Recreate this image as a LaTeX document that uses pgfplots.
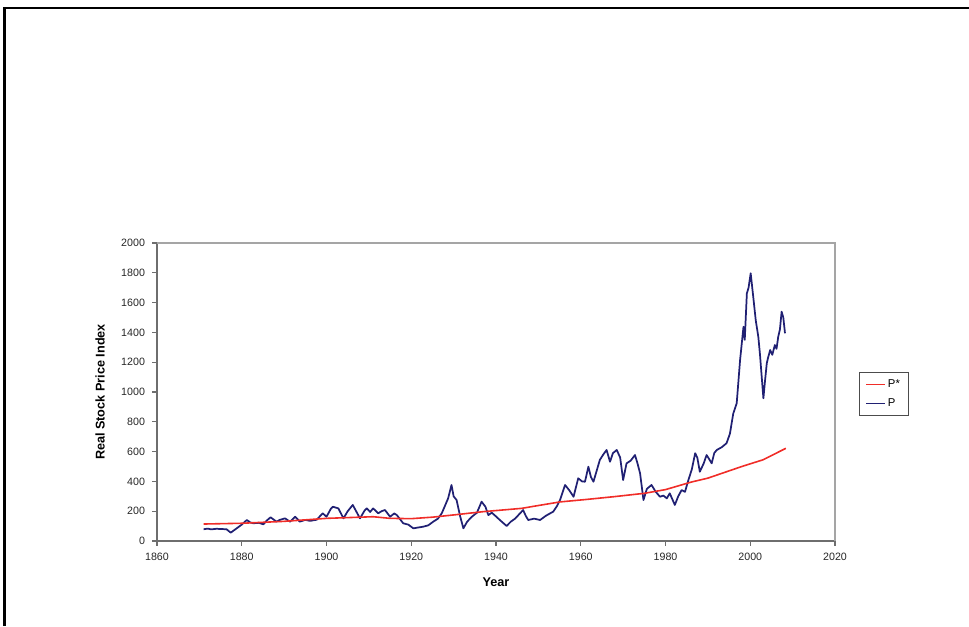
\documentclass[border=0pt]{standalone}
\usepackage{pgfplots}
\pgfplotsset{compat=1.18}
\usepackage{fontspec}
\setmainfont{Liberation Sans}
\definecolor{pnavy}{RGB}{32,32,115}
\definecolor{pred}{RGB}{240,45,40}
\definecolor{axgray}{RGB}{110,110,110}
\definecolor{boxgray}{RGB}{165,165,165}

\pgfplotstableread{
year value
1871.0 79
1872.0 83
1872.8 78
1874.0 82
1875.5 80
1876.4 79
1877.4 56
1878.8 85
1880.0 110
1881.2 141
1882.0 125
1882.7 119
1884.0 122
1885.1 112
1886.0 140
1886.8 159
1888.2 130
1889.0 142
1890.2 152
1891.4 130
1892.6 163
1893.7 130
1895.0 142
1896.1 135
1897.7 143
1899.1 186
1900.0 163
1901.0 215
1901.5 230
1902.8 219
1904.0 152
1905.0 200
1906.2 242
1907.9 152
1909.0 205
1909.5 219
1910.3 195
1911.0 219
1912.2 186
1913.0 200
1913.8 208
1915.0 163
1916.0 185
1916.6 174
1918.1 119
1919.3 110
1920.5 85
1921.5 90
1922.8 96
1924.0 105
1925.2 130
1926.3 150
1927.2 186
1928.7 286
1929.5 376
1930.0 300
1930.7 275
1931.5 170
1932.3 85
1933.2 130
1934.3 163
1935.5 190
1936.6 264
1937.5 230
1938.2 174
1939.0 190
1940.0 165
1940.9 141
1942.5 101
1943.5 130
1944.5 150
1946.4 208
1947.0 170
1947.6 141
1949.0 150
1950.4 141
1951.8 170
1953.5 197
1954.4 235
1955.1 275
1956.3 376
1957.3 340
1958.3 297
1959.4 421
1960.3 400
1961.0 398
1961.8 499
1962.4 430
1963.0 398
1964.5 544
1965.3 580
1966.1 611
1966.9 532
1967.6 590
1968.5 611
1969.3 560
1970.0 409
1970.8 521
1971.8 540
1972.8 577
1973.4 520
1974.0 454
1974.8 275
1975.6 350
1976.7 376
1977.7 330
1978.7 297
1979.5 305
1980.3 286
1981.0 320
1982.2 242
1983.0 300
1983.8 342
1984.6 330
1985.4 409
1986.2 480
1987.0 589
1987.5 560
1988.1 465
1989.0 520
1989.7 577
1990.4 545
1990.9 521
1991.5 590
1992.1 611
1993.3 630
1994.4 656
1995.2 720
1996.0 857
1996.8 924
1997.6 1215
1998.4 1438
1998.7 1350
1999.2 1662
1999.6 1700
2000.1 1797
2000.7 1640
2001.3 1480
2001.9 1371
2002.3 1250
2002.7 1103
2003.1 958
2003.5 1080
2003.9 1193
2004.2 1230
2004.7 1282
2005.2 1250
2005.8 1315
2006.2 1290
2006.6 1371
2007.0 1420
2007.4 1539
2007.8 1500
2008.2 1394
}\pricetable

% P* (present value of dividends)
\pgfplotstableread{
year value
1871 114
1880 119
1890 132
1900 152
1911 163
1915 152
1920 150
1925 160
1930 175
1937 197
1946 219
1955 262
1961 278
1968 298
1975 320
1980 345
1986 395
1990 422
1998 500
2003 545
2008.4 622
}\pstartable

\begin{document}
\begin{tikzpicture}
\useasboundingbox (0,0) rectangle (726.75pt,469.5pt);
\draw[line width=2.2pt] (3.4pt,0) -- (3.4pt,463.5pt) -- (726.75pt,463.5pt);
\begin{axis}[
  scale only axis, width=508.5pt, height=223.5pt,
  at={(117.75pt,63.75pt)}, anchor=south west,
  xmin=1860, xmax=2020, ymin=0, ymax=2000,
  xtick={1860,1880,...,2020}, ytick={0,200,...,2000},
  axis lines*=left, axis line style={-, axgray, line width=1pt},
  tick align=outside, major tick length=3.5pt,
  tick style={axgray, line width=0.8pt},
  /pgf/number format/1000 sep={},
  /pgf/number format/assume math mode=true,
  tick label style={font=\fontsize{8}{9}\selectfont, black!85},
  xticklabel style={yshift=-2pt},
  yticklabel style={xshift=-2pt},
  xlabel={Year}, ylabel={Real Stock Price Index},
  label style={font=\fontsize{9.5}{11}\selectfont\bfseries},
  xlabel style={at={(axis description cs:0.5,-0.138)}, anchor=center},
  ylabel style={at={(axis description cs:-0.084,0.5)}, anchor=center},
  clip=false,
  reverse legend,
  legend style={at={(1.0354,0.5671)}, anchor=north west, draw=black!70,
    line width=0.6pt, font=\fontsize{8.5}{9}\selectfont,
    inner xsep=4.5pt, inner ysep=3.5pt,
    /tikz/every even column/.append style={column sep=1pt},
    row sep=2.5pt, legend cell align=left},
  legend image code/.code={\draw[mark repeat=2,mark phase=2,#1,line width=0.9pt]
    plot coordinates {(0pt,0pt) (7pt,0pt) (14pt,0pt)};},
]
\draw[boxgray, line width=0.8pt] (rel axis cs:0,1) -- (rel axis cs:1,1) -- (rel axis cs:1,0);
\addplot[draw=pnavy, line width=1.3pt, line join=round] table[x=year, y=value] {\pricetable};
\addlegendentry{P}
\addplot[draw=pred, line width=1.2pt, line join=round] table[x=year, y=value] {\pstartable};
\addlegendentry{P*}
\end{axis}
\end{tikzpicture}
\end{document}
